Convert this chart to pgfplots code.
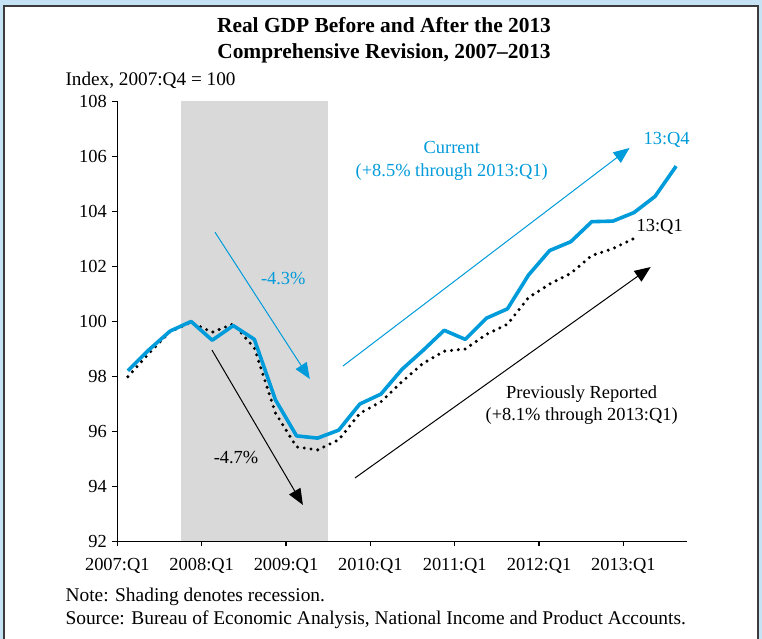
\documentclass[border=0pt]{standalone}
\usepackage{pgfplots}
\pgfplotsset{compat=1.18}
\usepackage{fontspec}
\setmainfont{Liberation Serif}
\usetikzlibrary{arrows.meta}
\definecolor{bgblue}{RGB}{198,226,245}
\definecolor{borderdark}{RGB}{60,60,60}
\definecolor{gdpblue}{RGB}{0,155,218}
\definecolor{shadegray}{RGB}{217,217,217}
\begin{document}
\begin{tikzpicture}
\useasboundingbox (0bp,0bp) rectangle (762bp,639bp);
\fill[bgblue] (0bp,0bp) rectangle (762bp,639bp);
\filldraw[fill=white, draw=borderdark, line width=1.2bp] (4bp,-5bp) rectangle (758bp,633bp);
\node[font=\fontsize{21.5}{26}\selectfont\bfseries, align=center] at (384bp,599bp) {Real GDP Before and After the 2013\\Comprehensive Revision, 2007--2013};
\node[font=\fontsize{19.3}{22}\selectfont, anchor=west] at (62bp,559bp) {Index, 2007:Q4 = 100};
\node[font=\fontsize{19.5}{22}\selectfont, anchor=west] at (62bp,42bp) {Note: Shading denotes recession.};
\node[font=\fontsize{19.5}{22}\selectfont, anchor=west] at (62bp,19bp) {Source: Bureau of Economic Analysis, National Income and Product Accounts.};
\begin{axis}[
  at={(117.3bp,97.5bp)}, anchor=south west,
  scale only axis, width=569.4bp, height=440bp,
  xmin=0, xmax=27, ymin=92, ymax=108,
  axis lines*=left,
  axis on top,
  axis line style={line width=1.4bp, black},
  every tick/.style={black, line width=1.2bp},
  tick align=outside,
  major tick length=5bp,
  xtick={0,4,8,12,16,20,24},
  xticklabels={2007:Q1,2008:Q1,2009:Q1,2010:Q1,2011:Q1,2012:Q1,2013:Q1},
  xticklabel style={yshift=-8bp},
  ytick={92,94,...,108},
  yticklabel style={xshift=-2bp},
  tick label style={font=\fontsize{18.5}{22}\selectfont},
  /pgf/number format/assume math mode=true,
  clip=false,
]
\addplot[fill=shadegray, draw=none] coordinates {(3,92) (3,108) (10,108) (10,92)} -- cycle;
% Previously reported (dotted)
\addplot[black, line width=3.4bp, line cap=round, dash pattern=on 0bp off 6.8bp] coordinates {
(0.5,97.99) (1.5,98.84) (2.5,99.63) (3.5,99.97) (4.5,99.61) (5.5,99.91) (6.5,99.04) (7.5,96.67)
(8.5,95.44) (9.5,95.33) (10.5,95.70) (11.5,96.66) (12.5,97.08) (13.5,97.81) (14.5,98.48) (15.5,98.92)
(16.5,99.00) (17.5,99.53) (18.5,99.90) (19.5,100.87) (20.5,101.36) (21.5,101.75) (22.5,102.40) (23.5,102.65) (24.5,103.02)};
% Current
\addplot[gdpblue, line width=3.6bp, line join=round] coordinates {
(0.5,98.21) (1.5,98.97) (2.5,99.65) (3.5,100.00) (4.5,99.32) (5.5,99.85) (6.5,99.35) (7.5,97.15)
(8.5,95.84) (9.5,95.76) (10.5,96.05) (11.5,97.00) (12.5,97.36) (13.5,98.26) (14.5,98.95) (15.5,99.68)
(16.5,99.35) (17.5,100.12) (18.5,100.46) (19.5,101.69) (20.5,102.58) (21.5,102.90) (22.5,103.63) (23.5,103.65)
(24.5,103.96) (25.5,104.55) (26.5,105.65)};
% annotations
\draw[gdpblue, line width=1bp, -{Triangle[length=16bp,width=13bp]}] (axis cs:4.63,103.25) -- (axis cs:9.13,97.91);
\node[gdpblue, font=\fontsize{18.5}{22}\selectfont] at (axis cs:7.87,101.58) {-4.3\%};
\draw[black, line width=1bp, -{Triangle[length=16bp,width=13bp]}] (axis cs:4.49,98.96) -- (axis cs:8.80,93.33);
\node[black, font=\fontsize{18.5}{22}\selectfont] at (axis cs:5.63,95.04) {-4.7\%};
\draw[gdpblue, line width=1bp, -{Triangle[length=16bp,width=13bp]}] (axis cs:10.70,98.38) -- (axis cs:24.29,106.31);
\node[gdpblue, font=\fontsize{18.5}{23}\selectfont, align=center] at (axis cs:15.86,105.85) {Current\\(+8.5\% through 2013:Q1)};
\draw[black, line width=1bp, -{Triangle[length=16bp,width=13bp]}] (axis cs:11.27,94.31) -- (axis cs:25.29,101.98);
\node[black, font=\fontsize{18.5}{22}\selectfont, align=center] at (axis cs:22.02,96.97) {Previously Reported\\(+8.1\% through 2013:Q1)};
\node[gdpblue, font=\fontsize{18.5}{22}\selectfont] at (axis cs:26.05,106.6) {13:Q4};
\node[black, font=\fontsize{18.5}{22}\selectfont] at (axis cs:25.72,103.44) {13:Q1};
\end{axis}
\end{tikzpicture}
\end{document}
